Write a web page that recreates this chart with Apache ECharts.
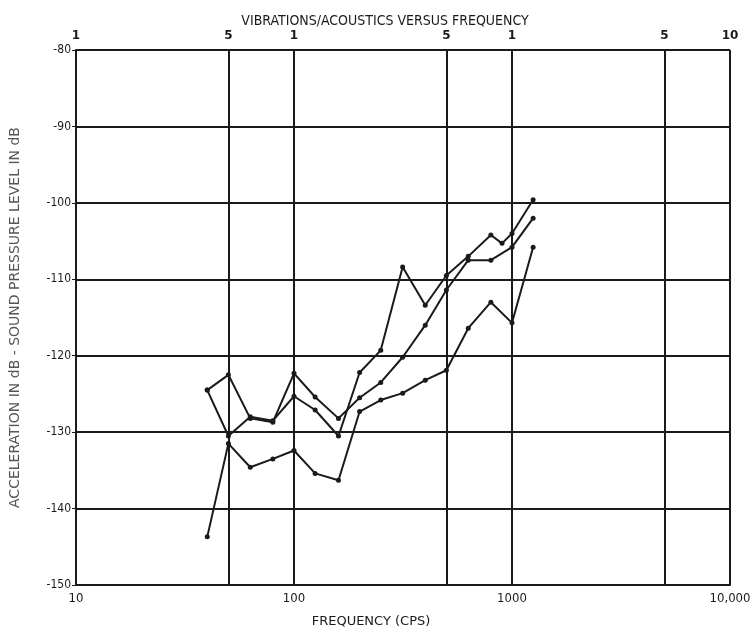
<!DOCTYPE html>
<html>
<head>
<meta charset="utf-8">
<script src="https://cdn.jsdelivr.net/npm/echarts@6/dist/echarts.min.js"></script>
<style>html,body{margin:0;padding:0;background:#fff}#c{width:754px;height:636px}</style>
</head>
<body>
<div id="c"></div>
<script>
// Data (frequency in CPS, level in dB)
var freqA = [40, 50, 63, 80, 100, 125, 160, 200, 250, 315, 400, 500, 630, 800, 1000, 1250];
var seriesA = [-124.5, -122.5, -128.2, -128.7, -122.3, -125.4, -128.2, -125.5, -123.5, -120.2, -116.0, -111.4, -107.5, -107.5, -105.8, -102.0];
var freqB = [40, 50, 63, 80, 100, 125, 160, 200, 250, 315, 400, 500, 630, 800, 900, 1000, 1250];
var seriesB = [-124.5, -130.5, -128.0, -128.5, -125.3, -127.1, -130.5, -122.2, -119.3, -108.4, -113.4, -109.5, -107.0, -104.2, -105.3, -104.0, -99.6];
var freqC = [40, 50, 63, 80, 100, 125, 160, 200, 250, 315, 400, 500, 630, 800, 1000, 1250];
var seriesC = [-143.7, -131.5, -134.6, -133.5, -132.4, -135.4, -136.3, -127.3, -125.8, -124.9, -123.2, -121.9, -116.4, -113.0, -115.7, -105.8];
var yTicks = [-150, -140, -130, -120, -110, -100, -90, -80];
var topTickFreqs = [10, 50, 100, 500, 1000, 5000, 10000];
var topTickLabels = ['1', '5', '1', '5', '1', '5', '10'];

function pairs(xs, ys) { return xs.map(function (x, i) { return [x, ys[i]]; }); }

var font = '"DejaVu Sans Condensed", "Liberation Sans Narrow", sans-serif';
var wide = '"DejaVu Sans", sans-serif';
var ink = '#1a1a1a';

var markData = topTickFreqs.map(function (f, i) {
  return { xAxis: f, label: { show: true, formatter: topTickLabels[i] } };
});

function lineSeries(name, data, withMark) {
  var s = {
    name: name, type: 'line', data: data,
    symbol: 'circle', symbolSize: 5,
    itemStyle: { color: ink },
    lineStyle: { color: ink, width: 2 },
    z: 5
  };
  if (withMark) {
    s.markLine = {
      silent: true, symbol: 'none', animation: false,
      lineStyle: { color: ink, width: 2, type: 'solid' },
      label: { position: 'end', color: ink, fontFamily: wide, fontSize: 12, fontWeight: 'bold', distance: 8 },
      data: markData
    };
  }
  return s;
}

var chart = echarts.init(document.getElementById('c'));
chart.setOption({
  animation: false,
  backgroundColor: '#ffffff',
  title: {
    text: 'VIBRATIONS/ACOUSTICS VERSUS FREQUENCY',
    left: 380, top: 9, textAlign: 'center',
    textStyle: { fontFamily: font, fontSize: 14, fontWeight: 'normal', color: ink }
  },
  grid: { left: 75, right: 24, top: 50, bottom: 51 },
  xAxis: {
    type: 'log', logBase: 10, min: 10, max: 10000,
    name: 'FREQUENCY (CPS)', nameLocation: 'middle', nameGap: 30,
    nameTextStyle: { fontFamily: wide, fontSize: 13, color: ink, padding: [0, 64, 0, 0] },
    axisLine: { show: true, lineStyle: { color: ink, width: 2 } },
    axisTick: { show: false },
    minorTick: { show: false },
    splitLine: { show: true, lineStyle: { color: ink, width: 2 } },
    axisLabel: {
      fontFamily: font, fontSize: 13, color: ink, margin: 7,
      formatter: function (v) { return v >= 10000 ? '10,000' : String(v); }
    }
  },
  yAxis: {
    type: 'value', min: yTicks[0], max: yTicks[yTicks.length - 1], interval: 10,
    name: 'ACCELERATION IN dB - SOUND PRESSURE LEVEL IN dB',
    nameLocation: 'middle', nameGap: 54, nameRotate: 90,
    nameTextStyle: { fontFamily: wide, fontSize: 14, color: '#555' },
    axisLine: { show: true, lineStyle: { color: ink, width: 2 } },
    axisTick: { show: true, length: 4, lineStyle: { color: ink } },
    splitLine: { show: true, lineStyle: { color: ink, width: 2 } },
    axisLabel: { fontFamily: font, fontSize: 12, color: ink, margin: 5 }
  },
  series: [
    lineSeries('A', pairs(freqA, seriesA), true),
    lineSeries('B', pairs(freqB, seriesB), false),
    lineSeries('C', pairs(freqC, seriesC), false)
  ]
});
</script>
</body>
</html>
